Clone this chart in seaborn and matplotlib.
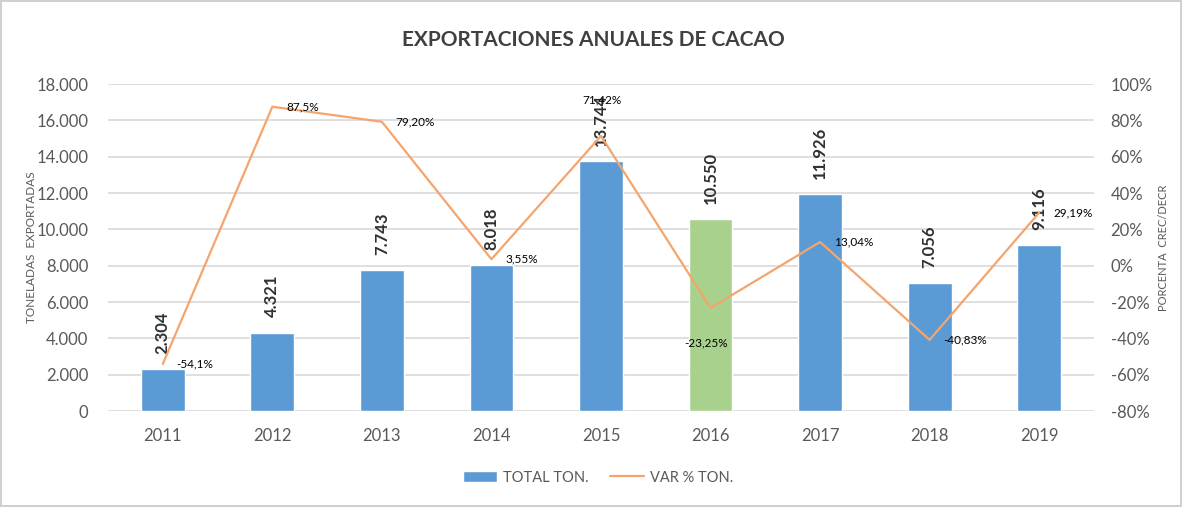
import numpy as np
import pandas as pd
import matplotlib
matplotlib.use("Agg")
import matplotlib.pyplot as plt
import seaborn as sns
from matplotlib.patches import Patch
from matplotlib.lines import Line2D
from matplotlib.ticker import FuncFormatter, MultipleLocator

# data
years = ["2011", "2012", "2013", "2014", "2015", "2016", "2017", "2018", "2019"]
total_ton = [2304, 4321, 7743, 8018, 13744, 10550, 11926, 7056, 9116]
var_pct = [-54.1, 87.5, 79.20, 3.55, 71.42, -23.25, 13.04, -40.83, 29.19]
var_labels = ["-54,1%", "87,5%", "79,20%", "3,55%", "71,42%", "-23,25%", "13,04%", "-40,83%", "29,19%"]
label_side = ["right", "right", "right", "right", "above", "below", "right", "right", "right"]

BLUE = "#5B9BD5"
GREEN = "#A9D18E"
ORANGE = "#F4A56E"
GRAY = "#595959"
bar_colors = [GREEN if y == "2016" else BLUE for y in years]

sns.set_style("white")
plt.rcParams["font.family"] = ["Lato", "DejaVu Sans"]

df = pd.DataFrame({"year": years, "total": total_ton, "var": var_pct})
df["pos"] = np.arange(len(df))

fig = plt.figure(figsize=(11.82, 5.07), dpi=100)
fig.patch.set_edgecolor("#D0D0D0")
fig.patch.set_linewidth(1.5)
ax = fig.add_axes([0.0914, 0.1893, 0.8341, 0.645])

sns.barplot(data=df, x="year", y="total", hue="year", palette=bar_colors,
            legend=False, width=0.4, ax=ax, saturation=1)
ax.set_ylim(0, 18000)
ax.set_xlim(-0.5, len(years) - 0.5)
ax.yaxis.set_major_locator(MultipleLocator(2000))
ax.yaxis.set_major_formatter(FuncFormatter(lambda v, p: f"{int(v):,}".replace(",", ".")))
ax.grid(axis="y", color="#D9D9D9", linewidth=1.2)
ax.set_axisbelow(True)
for s in ax.spines.values():
    s.set_visible(False)
ax.tick_params(axis="both", length=0, labelsize=12, colors=GRAY)
ax.tick_params(axis="y", pad=14)
ax.tick_params(axis="x", pad=12)
ax.set_xlabel("")
ax.set_ylabel("TONELADAS  EXPORTADAS", fontsize=8.5, color=GRAY)
ax.yaxis.set_label_coords(-0.072, 0.5)

# bar value labels, rotated
for i, v in enumerate(total_ton):
    ax.annotate(f"{v:,}".replace(",", "."), (i, v), xytext=(0, 11), textcoords="offset points",
                rotation=90, ha="center", va="bottom", fontsize=12, fontweight="bold", color="#303030")

ax2 = ax.twinx()
sns.lineplot(data=df, x="pos", y="var", color=ORANGE, linewidth=1.6, ax=ax2)
ax2.set_ylim(-80, 100)
ax2.set_xlim(-0.5, len(years) - 0.5)
ax2.yaxis.set_major_locator(MultipleLocator(20))
ax2.yaxis.set_major_formatter(FuncFormatter(lambda v, p: f"{int(v)}%"))
for s in ax2.spines.values():
    s.set_visible(False)
ax2.tick_params(axis="y", length=0, labelsize=12, colors=GRAY, pad=12)
ax2.set_xlabel("")
ax2.set_ylabel("PORCENTA  CREC/DECR", fontsize=8, color=GRAY, rotation=90)
ax2.yaxis.set_label_coords(1.065, 0.5)

for i, (v, lab, side) in enumerate(zip(var_pct, var_labels, label_side)):
    if side == "right":
        off, ha, va = (10, 0), "left", "center"
    elif side == "above":
        off, ha, va = (1, 26), "center", "center"
    else:
        off, ha, va = (-3, -25), "center", "center"
    ax2.annotate(lab, (i, v), xytext=off, textcoords="offset points",
                 ha=ha, va=va, fontsize=8.5, color="black")

fig.suptitle("EXPORTACIONES ANUALES DE CACAO", x=0.502, y=0.94, fontsize=15,
             fontweight="bold", color="#404040")

handles = [Patch(facecolor=BLUE, label="TOTAL TON."),
           Line2D([0], [0], color=ORANGE, linewidth=1.6, label="VAR % TON.")]
leg = fig.legend(handles=handles, loc="center", bbox_to_anchor=(0.506, 0.058), ncol=2,
                 frameon=False, fontsize=10.5, handlelength=2.3, handleheight=0.8,
                 columnspacing=1.5, handletextpad=0.4)
for t in leg.get_texts():
    t.set_color(GRAY)

fig.savefig("out.png", dpi=100)
